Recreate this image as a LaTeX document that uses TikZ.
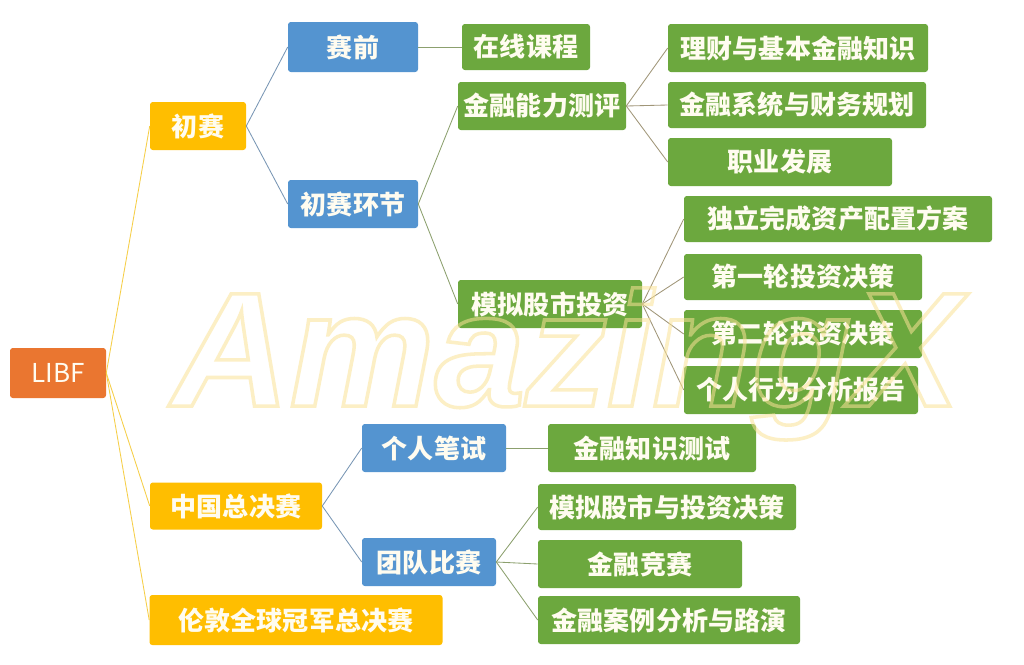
\documentclass[tikz,border=0pt]{standalone}
\usepackage{fontspec}
\setmainfont{Noto Sans CJK SC}
\newfontfamily\wmfont{Liberation Sans}
\usepackage{tikz}
\usetikzlibrary{calc}

\definecolor{rootc}{RGB}{234,118,48}
\definecolor{goldc}{RGB}{255,190,0}
\definecolor{bluec}{RGB}{84,148,208}
\definecolor{greenc}{RGB}{108,168,62}
\definecolor{textc}{RGB}{255,252,240}
\definecolor{lineY}{RGB}{246,206,70}
\definecolor{lineB}{RGB}{120,150,180}
\definecolor{lineG}{RGB}{140,160,110}
\definecolor{lineT}{RGB}{160,150,120}
\definecolor{wmc}{RGB}{250,226,150}

\begin{document}
\begin{tikzpicture}[x=0.025cm, y=-0.025cm,
  box/.style={rounded corners=2pt, text=textc, font=\fontsize{18.5}{20}\selectfont\bfseries, inner sep=0pt},
  rootbox/.style={box, fill=rootc, font=\fontsize{18.5}{20}\selectfont},
  goldbox/.style={box, fill=goldc},
  bluebox/.style={box, fill=bluec},
  greenbox/.style={box, fill=greenc},
  link/.style={line width=0.6pt}]

\useasboundingbox (0,0) rectangle (1024,664);
\fill[white] (0,0) rectangle (1024,664);

% nodes
\node[rootbox, minimum width=96*0.025cm, minimum height=50*0.025cm] (libf) at (58,373) {LIBF};

\node[goldbox, minimum width=96*0.025cm, minimum height=48*0.025cm] (chusai) at (198,126) {初赛};
\node[goldbox, minimum width=172*0.025cm, minimum height=47*0.025cm] (zongjue) at (236,506) {中国总决赛};
\node[goldbox, minimum width=293*0.025cm, minimum height=50*0.025cm] (lundun) at (296,620) {伦敦全球冠军总决赛};

\node[bluebox, minimum width=130*0.025cm, minimum height=50*0.025cm] (saiqian) at (353,47) {赛前};
\node[bluebox, minimum width=130*0.025cm, minimum height=48*0.025cm] (huanjie) at (353,204) {初赛环节};
\node[bluebox, minimum width=144*0.025cm, minimum height=48*0.025cm] (bishi) at (434,448) {个人笔试};
\node[bluebox, minimum width=134*0.025cm, minimum height=48*0.025cm] (tuandui) at (429,562) {团队比赛};

\node[greenbox, minimum width=128*0.025cm, minimum height=46*0.025cm] (kecheng) at (526,47) {在线课程};
\node[greenbox, minimum width=168*0.025cm, minimum height=48*0.025cm] (nengli) at (542,106) {金融能力测评};
\node[greenbox, minimum width=184*0.025cm, minimum height=48*0.025cm] (moni) at (550,304) {模拟股市投资};

\node[greenbox, minimum width=260*0.025cm, minimum height=48*0.025cm] (licai) at (798,48) {理财与基本金融知识};
\node[greenbox, minimum width=258*0.025cm, minimum height=46*0.025cm] (xitong) at (797,105) {金融系统与财务规划};
\node[greenbox, minimum width=224*0.025cm, minimum height=48*0.025cm] (zhiye) at (780,162) {职业发展};

\node[greenbox, minimum width=308*0.025cm, minimum height=46*0.025cm] (peizhi) at (838,219) {独立完成资产配置方案};
\node[greenbox, minimum width=238*0.025cm, minimum height=46*0.025cm] (diyi) at (803,277) {第一轮投资决策};
\node[greenbox, minimum width=238*0.025cm, minimum height=48*0.025cm] (dier) at (803,334) {第二轮投资决策};
\node[greenbox, minimum width=234*0.025cm, minimum height=48*0.025cm] (baogao) at (801,390) {个人行为分析报告};

\node[greenbox, minimum width=208*0.025cm, minimum height=48*0.025cm] (zhishi) at (652,448) {金融知识测试};
\node[greenbox, minimum width=258*0.025cm, minimum height=46*0.025cm] (juece) at (667,507) {模拟股市与投资决策};
\node[greenbox, minimum width=204*0.025cm, minimum height=48*0.025cm] (jingsai) at (640,564) {金融竞赛};
\node[greenbox, minimum width=262*0.025cm, minimum height=48*0.025cm] (luyan) at (669,620) {金融案例分析与路演};

% connectors
\foreach \c in {chusai,zongjue,lundun}
  \draw[link, lineY] (libf.east) -- (\c.west);
\foreach \p/\c in {chusai/saiqian, chusai/huanjie, zongjue/bishi, zongjue/tuandui}
  \draw[link, lineB] (\p.east) -- (\c.west);
\foreach \p/\c in {saiqian/kecheng, huanjie/nengli, huanjie/moni, bishi/zhishi, tuandui/juece, tuandui/jingsai, tuandui/luyan}
  \draw[link, lineG] (\p.east) -- (\c.west);
\foreach \p/\c in {nengli/licai, nengli/xitong, nengli/zhiye, moni/peizhi, moni/diyi, moni/dier, moni/baogao}
  \draw[link, lineT] (\p.east) -- (\c.west);

% watermark, laid over everything
\node[text=wmc, opacity=0.55, font=\wmfont\bfseries\itshape\fontsize{116}{116}\selectfont] (wm) at (566,364)
  {\special{pdf:literal direct 1 Tr 2.5 w}AmazingX\special{pdf:literal direct 0 Tr}};
\end{tikzpicture}
\end{document}
